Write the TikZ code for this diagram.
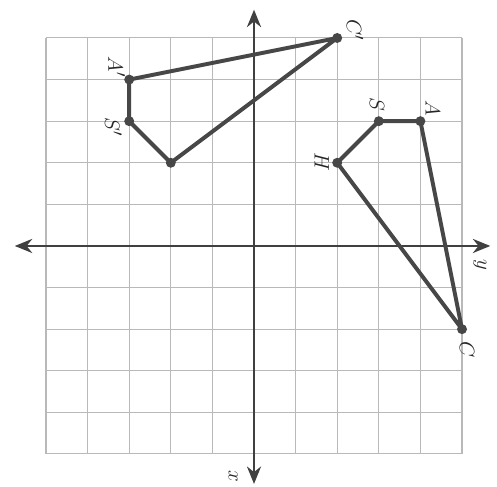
\documentclass[tikz,border=0pt]{standalone}
\usetikzlibrary{arrows.meta}
\begin{document}
\begin{tikzpicture}[
  gridline/.style={draw=gray!55, line width=0.7pt},
  axisline/.style={draw=black!75, line width=1.4pt, {Stealth[length=4.2mm,width=3.4mm]}-{Stealth[length=4.2mm,width=3.4mm]}},
  shapeline/.style={draw=black!72, line width=2.7pt, line join=round},
  vtx/.style={fill=black!72},
  lbl/.style={rotate=-90, font=\fontsize{15}{18}\selectfont, inner sep=0pt, text=black!85}
]
\useasboundingbox (-6.106,-5.793) rectangle (5.841,5.913);
\draw[gridline] (-5,-5) grid (5,5);
% axes
\coordinate (xa) at (0,-5.72);
\coordinate (xb) at (0,5.68);
\coordinate (ya) at (-5.75,0);
\coordinate (yb) at (5.68,0);
\draw[axisline] (xa) -- (xb);
\draw[axisline] (ya) -- (yb);
\node[lbl] (xl) at (-0.5,-5.55) {$x$};
\node[lbl] (yl) at (5.43,-0.46) {$y$};
% image figure
\coordinate (Cp) at (2,5);
\coordinate (Ap) at (-3,4);
\coordinate (Sp) at (-3,3);
\coordinate (Hp) at (-2,2);
\draw[shapeline] (Cp) -- (Ap) -- (Sp) -- (Hp) -- cycle;
% original figure
\coordinate (H) at (2,2);
\coordinate (S) at (3,3);
\coordinate (A) at (4,3);
\coordinate (C) at (5,-2);
\draw[shapeline] (H) -- (S) -- (A) -- (C) -- cycle;
\foreach \p in {Cp,Ap,Sp,Hp,H,S,A,C} \fill[vtx] (\p) circle (0.12);
% labels
\node[lbl] (lCp) at (2.43,5.19) {$C'$};
\node[lbl] (lAp) at (-3.3,4.3) {$A'$};
\node[lbl] (lSp) at (-3.38,2.86) {$S'$};
\node[lbl] (lH) at (1.63,2.02) {$H$};
\node[lbl] (lS) at (2.96,3.39) {$S$};
\node[lbl] (lA) at (4.3,3.3) {$A$};
\node[lbl] (lC) at (5.12,-2.48) {$C$};
\end{tikzpicture}
\end{document}
